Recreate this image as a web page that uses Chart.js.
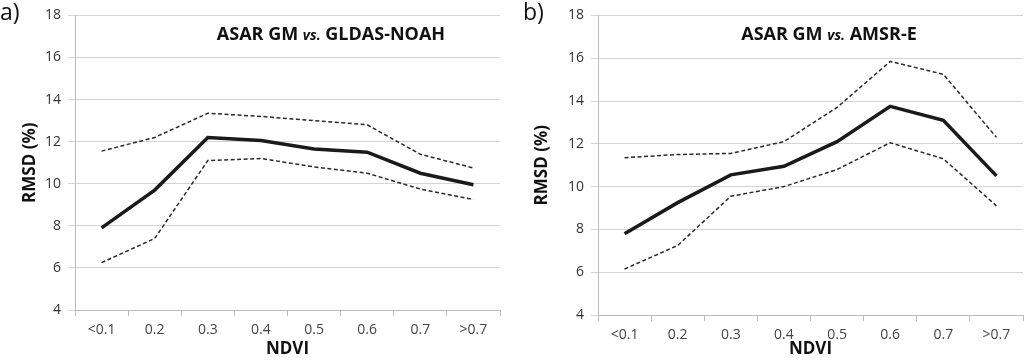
<!DOCTYPE html>
<html>
<head>
<meta charset="utf-8">
<script src="https://cdn.jsdelivr.net/npm/chart.js@4.4.1/dist/chart.umd.min.js"></script>
<style>
  html, body { margin: 0; padding: 0; background: #fff; }
  body { width: 1024px; height: 360px; position: relative; overflow: hidden; font-family: "Open Sans", sans-serif; }
  .panel { position: absolute; top: 0; width: 512px; height: 360px; }
  .tag { position: absolute; top: -5px; font-size: 23px; color: #111; }
</style>
</head>
<body>
<div class="panel" style="left:0"><canvas id="chartA" width="512" height="360"></canvas></div>
<div class="panel" style="left:512px"><canvas id="chartB" width="512" height="360"></canvas></div>
<div class="tag" style="left:0">a)</div>
<div class="tag" style="left:523px">b)</div>
<script>
// --- data ----------------------------------------------------------------
const ndviBins = ['<0.1', '0.2', '0.3', '0.4', '0.5', '0.6', '0.7', '>0.7'];
const yTicks = [4, 6, 8, 10, 12, 14, 16, 18];

// a) ASAR GM vs. GLDAS-NOAH
const gldasMean  = [7.9, 9.7, 12.2, 12.05, 11.65, 11.5, 10.5, 9.95];
const gldasUpper = [11.55, 12.2, 13.35, 13.2, 13.0, 12.8, 11.4, 10.75];
const gldasLower = [6.25, 7.4, 11.1, 11.2, 10.8, 10.5, 9.75, 9.25];

// b) ASAR GM vs. AMSR-E
const amsrMean  = [7.8, 9.25, 10.55, 10.95, 12.1, 13.75, 13.1, 10.5];
const amsrUpper = [11.35, 11.5, 11.55, 12.1, 13.7, 15.85, 15.25, 12.3];
const amsrLower = [6.15, 7.25, 9.55, 10.0, 10.8, 12.05, 11.3, 9.1];

const FONT = '"Open Sans", sans-serif';
const GRID = '#d4d4d4';
const AXIS = '#bcbcbc';

// title with italic "vs." in the middle, drawn inside the plot area
const titlePlugin = {
  id: 'mixedTitle',
  afterDraw(chart, args, opts) {
    const ctx = chart.ctx;
    const parts = [
      { t: opts.left + ' ', f: 'bold 18px ' + FONT },
      { t: 'vs.', f: 'italic bold 14px ' + FONT },
      { t: ' ' + opts.right, f: 'bold 18px ' + FONT },
    ];
    ctx.save();
    ctx.fillStyle = '#111';
    ctx.textBaseline = 'alphabetic';
    let w = 0;
    parts.forEach(p => { ctx.font = p.f; w += ctx.measureText(p.t).width; });
    let x = opts.cx - w / 2;
    parts.forEach(p => {
      ctx.font = p.f;
      ctx.fillText(p.t, x, opts.y);
      x += ctx.measureText(p.t).width;
    });
    ctx.restore();
  }
};

function makeChart(id, mean, upper, lower, title, leftW, rightPad, bottomH) {
  const dashed = (data) => ({
    data, borderColor: '#2a2a2a', borderWidth: 1.5, borderDash: [4, 2.5],
    pointRadius: 0, tension: 0, fill: false,
  });
  return new Chart(document.getElementById(id), {
    type: 'line',
    data: {
      labels: ndviBins,
      datasets: [
        dashed(upper),
        dashed(lower),
        { data: mean, borderColor: '#1a1a1a', borderWidth: 3.5, pointRadius: 0, tension: 0, fill: false },
      ],
    },
    plugins: [titlePlugin],
    options: {
      responsive: false,
      animation: false,
      layout: { padding: { top: 11, right: rightPad, bottom: 0, left: 0 } },
      plugins: {
        legend: { display: false },
        tooltip: { enabled: false },
        mixedTitle: title,
      },
      scales: {
        x: {
          offset: true,
          grid: { offset: true, drawOnChartArea: false, drawTicks: true, tickLength: 6, color: AXIS },
          border: { color: AXIS, width: 1 },
          ticks: { color: '#444', font: { family: FONT, size: 14 }, padding: 6, maxRotation: 0 },
          title: { display: true, text: 'NDVI', color: '#111', font: { family: FONT, size: 17, weight: 'bold' }, padding: { top: 0, bottom: 1 } },
          afterFit(s) { s.height = bottomH; },
        },
        y: {
          min: 4, max: 18,
          afterBuildTicks(s) { s.ticks = yTicks.map(v => ({ value: v })); },
          grid: { color: GRID, tickLength: 7 },
          border: { color: AXIS, width: 1 },
          ticks: { color: '#333', font: { family: FONT, size: 14 }, padding: 7 },
          title: { display: true, text: 'RMSD (%)', color: '#111', font: { family: FONT, size: 17, weight: 'bold' }, padding: { top: 20, bottom: 0 } },
          afterFit(s) { s.width = leftW; },
        },
      },
    },
  });
}

makeChart('chartA', gldasMean, gldasUpper, gldasLower,
  { left: 'ASAR GM', right: 'GLDAS-NOAH', cx: 331, y: 40 }, 75, 12, 50);
makeChart('chartB', amsrMean, amsrUpper, amsrLower,
  { left: 'ASAR GM', right: 'AMSR-E', cx: 317, y: 40 }, 86, 1, 45);
</script>
</body>
</html>
